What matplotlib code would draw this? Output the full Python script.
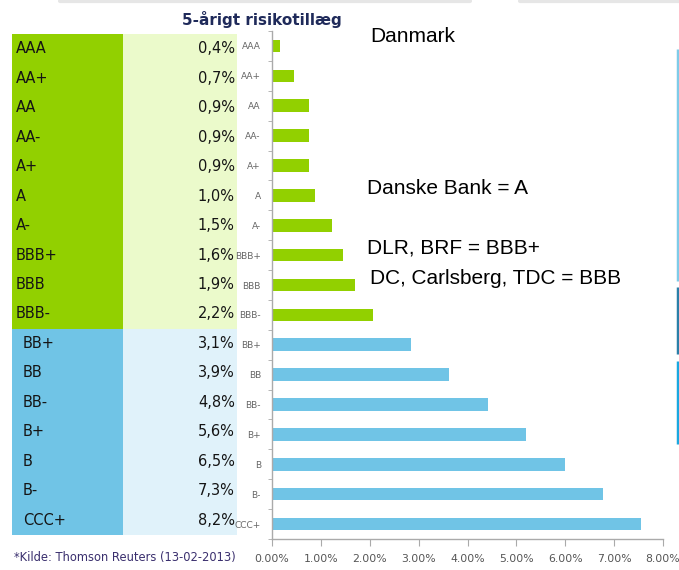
import matplotlib
matplotlib.use("Agg")
import matplotlib.pyplot as plt
import numpy as np

# ---- data ----
ratings = ["AAA", "AA+", "AA", "AA-", "A+", "A", "A-", "BBB+", "BBB", "BBB-",
           "BB+", "BB", "BB-", "B+", "B", "B-", "CCC+"]
table_pct = ["0,4%", "0,7%", "0,9%", "0,9%", "0,9%", "1,0%", "1,5%", "1,6%", "1,9%", "2,2%",
             "3,1%", "3,9%", "4,8%", "5,6%", "6,5%", "7,3%", "8,2%"]
bar_values = [0.0016, 0.0045, 0.0075, 0.0075, 0.0075, 0.0087, 0.0122, 0.0145, 0.0170, 0.0206,
              0.0284, 0.0363, 0.0441, 0.0520, 0.0599, 0.0678, 0.0756]
investment_grade = [True] * 10 + [False] * 7
x_ticks = [0.00, 0.01, 0.02, 0.03, 0.04, 0.05, 0.06, 0.07, 0.08]
x_tick_labels = ["0.00%", "1.00%", "2.00%", "3.00%", "4.00%", "5.00%", "6.00%", "7.00%", "8.00%"]
title = "5-årigt risikotillæg"
source = "*Kilde: Thomson Reuters (13-02-2013)"
notes = ["Danmark", "Danske Bank = A", "DLR, BRF = BBB+", "DC, Carlsberg, TDC = BBB"]
note_pos = [(370, 37), (367, 188), (367, 248), (370, 278)]

GREEN = "#92D000"
GREEN_LIGHT = "#EBFACB"
BLUE = "#70C4E6"
BLUE_LIGHT = "#E0F2FA"

W, H = 679, 570
fig = plt.figure(figsize=(W / 100, H / 100), dpi=100)
fig.patch.set_facecolor("white")

def frac_box(x0, y0, x1, y1):
    return [x0 / W, 1 - y1 / H, (x1 - x0) / W, (y1 - y0) / H]

# ---- table ----
tax = fig.add_axes(frac_box(12, 34, 237, 535))
n = len(ratings)
ypos = np.arange(n)
dark_cols = [GREEN if ig else BLUE for ig in investment_grade]
light_cols = [GREEN_LIGHT if ig else BLUE_LIGHT for ig in investment_grade]
split = 111 / 225
tax.barh(ypos, split, left=0, height=1.0, color=dark_cols, linewidth=0)
tax.barh(ypos, 1 - split, left=split, height=1.0, color=light_cols, linewidth=0)
for i, (r, p, ig) in enumerate(zip(ratings, table_pct, investment_grade)):
    tax.text(0.018 if ig else 0.049, i, r, ha="left", va="center",
             fontsize=10.5, color="#151515", family="DejaVu Sans")
    tax.text(0.99, i, p, ha="right", va="center",
             fontsize=10.5, color="#151515", family="DejaVu Sans")
tax.set_xlim(0, 1)
tax.set_ylim(n - 0.5, -0.5)
tax.axis("off")

# ---- bar chart ----
ax = fig.add_axes(frac_box(272, 31, 663, 539))
cols = [GREEN if ig else BLUE for ig in investment_grade]
ax.barh(ypos, bar_values, height=0.42, color=cols, linewidth=0)
ax.set_ylim(n - 0.5, -0.5)
ax.set_xlim(0, 0.08)
ax.set_xticks(x_ticks)
ax.set_xticklabels(x_tick_labels, family="DejaVu Sans", fontsize=7.8, color="#555555")
ax.set_yticks(ypos)
ax.set_yticklabels(ratings, family="DejaVu Sans", fontsize=6.5, color="#666666")
ax.set_yticks(np.arange(-0.5, n, 1.0), minor=True)
ax.tick_params(axis="y", which="major", length=0, pad=8)
ax.tick_params(axis="y", which="minor", length=3, color="#aaaaaa", direction="out")
ax.tick_params(axis="x", length=5, color="#aaaaaa", pad=6)
for s in ["top", "right"]:
    ax.spines[s].set_visible(False)
for s in ["left", "bottom"]:
    ax.spines[s].set_color("#aaaaaa")
    ax.spines[s].set_linewidth(1)
ax.set_facecolor("none")

# ---- overlay for texts and decorations ----
ov = fig.add_axes([0, 0, 1, 1])
ov.set_xlim(0, W)
ov.set_ylim(H, 0)
ov.axis("off")
ov.set_zorder(-1)
ov.text(262, 19, title, ha="center", va="center", fontsize=11, fontweight="bold",
        color="#1F2A5A", family="DejaVu Sans")
for t, (x, y) in zip(notes, note_pos):
    ov.text(x, y, t, ha="left", va="center", fontsize=15, color="black",
            family="Liberation Sans")
ov.text(14, 558, source, ha="left", va="center", fontsize=8.3, color="#3a2f6e",
        family="DejaVu Sans")
# faint top shadow strips
ov.plot([60, 470], [1, 1], color="#e6e6e6", lw=3, solid_capstyle="round")
ov.plot([520, 679], [1, 1], color="#e6e6e6", lw=3, solid_capstyle="round")
# right edge coloured strips
ov.plot([677.5, 677.5], [49, 281], color="#7FCBE8", lw=2.5, solid_capstyle="butt")
ov.plot([677.5, 677.5], [287, 354], color="#2A7FA8", lw=2.5, solid_capstyle="butt")
ov.plot([677.5, 677.5], [361, 444], color="#1AA8E0", lw=2.5, solid_capstyle="butt")

fig.savefig("out.png", dpi=100, facecolor="white")
